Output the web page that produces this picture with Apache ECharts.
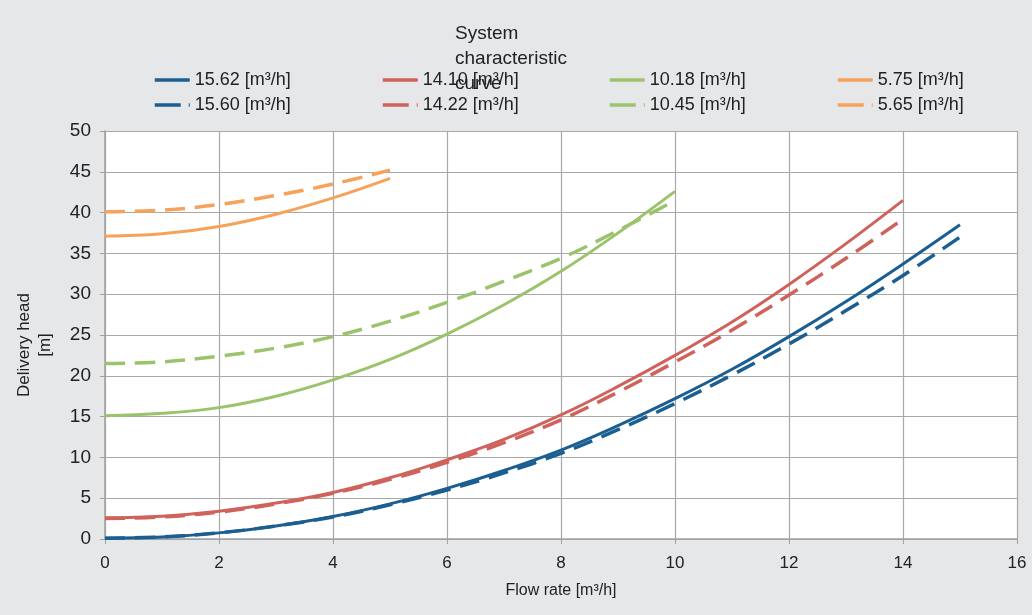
<!DOCTYPE html>
<html>
<head>
<meta charset="utf-8">
<script src="https://cdn.jsdelivr.net/npm/echarts@6/dist/echarts.min.js"></script>
<style>
  html, body { margin: 0; padding: 0; background: #e6e7e8; }
  #chart { width: 1032px; height: 615px; }
</style>
</head>
<body>
<div id="chart"></div>
<script>
// flow rate steps [m3/h] per curve length
var flow15 = [0, 1, 2, 3, 4, 5, 6, 7, 8, 9, 10, 11, 12, 13, 14, 15];
var flow14 = [0, 1, 2, 3, 4, 5, 6, 7, 8, 9, 10, 11, 12, 13, 14];
var flow10 = [0, 1, 2, 3, 4, 5, 6, 7, 8, 9, 10];
var flow5 = [0, 1, 2, 3, 4, 5];

// delivery head [m]
var head1562 = [0.1, 0.25, 0.75, 1.6, 2.75, 4.3, 6.2, 8.4, 10.9, 13.9, 17.2, 20.8, 24.8, 29.1, 33.7, 38.5];
var head1560 = [0.1, 0.25, 0.75, 1.6, 2.7, 4.2, 6.0, 8.1, 10.5, 13.4, 16.6, 20.1, 23.9, 28.0, 32.3, 37.0];
var head1410 = [2.6, 2.8, 3.4, 4.4, 5.7, 7.5, 9.7, 12.2, 15.2, 18.7, 22.5, 26.6, 31.2, 36.2, 41.5];
var head1422 = [2.5, 2.7, 3.3, 4.3, 5.6, 7.3, 9.4, 11.8, 14.6, 18.0, 21.7, 25.6, 29.9, 34.4, 39.2];
var head1018 = [15.1, 15.4, 16.1, 17.5, 19.5, 22.0, 25.1, 28.7, 32.8, 37.5, 42.6];
var head1045 = [21.5, 21.7, 22.4, 23.4, 24.8, 26.7, 29.0, 31.6, 34.4, 37.8, 41.5];
var head575 = [37.1, 37.4, 38.3, 39.8, 41.8, 44.2];
var head565 = [40.1, 40.3, 41.0, 42.1, 43.5, 45.2];

var names = ['15.62 [m³/h]', '15.60 [m³/h]', '14.10 [m³/h]', '14.22 [m³/h]',
             '10.18 [m³/h]', '10.45 [m³/h]', '5.75 [m³/h]', '5.65 [m³/h]'];
var colors = ['#1b5e92', '#1b5e92', '#d0625c', '#d0625c', '#9bc36b', '#9bc36b', '#f7a25b', '#f7a25b'];

function pairs(xs, ys) {
    return xs.map(function (x, i) { return [x, ys[i]]; });
}

var curves = [
    pairs(flow15, head1562), pairs(flow15, head1560),
    pairs(flow14, head1410), pairs(flow14, head1422),
    pairs(flow10, head1018), pairs(flow10, head1045),
    pairs(flow5, head575), pairs(flow5, head565)
];

var font = 'Liberation Sans, Arial, sans-serif';

// legend: 4 columns x 2 rows (solid on top, dashed below)
var colLeft = [153, 381, 608, 836];
var legends = names.map(function (n, i) {
    return {
        data: [n],
        left: colLeft[Math.floor(i / 2)],
        top: i % 2 === 0 ? 71 : 96,
        padding: 0,
        itemWidth: 35,
        itemHeight: 14,
        itemGap: 0,
        itemStyle: { opacity: 0 },
        lineStyle: { width: 3.5, type: i % 2 === 0 ? 'solid' : [26, 8] },
        textStyle: { fontFamily: font, fontSize: 18, color: '#222' }
    };
});

var series = curves.map(function (d, i) {
    return {
        name: names[i],
        type: 'line',
        data: d,
        smooth: 0.4,
        showSymbol: false,
        symbol: 'none',
        color: colors[i],
        lineStyle: {
            color: colors[i],
            width: i % 2 === 0 ? 3 : 3.5,
            type: i % 2 === 0 ? 'solid' : [20, 10]
        }
    };
});

var myChart = echarts.init(document.getElementById('chart'));
var option = {
    backgroundColor: '#e6e7e8',
    animation: false,
    title: {
        text: 'System\ncharacteristic\ncurve',
        left: 455,
        top: 21,
        padding: 0,
        textStyle: { fontFamily: font, fontSize: 19, fontWeight: 'normal', color: '#222', lineHeight: 25 }
    },
    legend: legends,
    grid: {
        left: 105, right: 15, top: 131, bottom: 76,
        show: true, backgroundColor: '#ffffff', borderWidth: 0
    },
    xAxis: {
        type: 'value',
        min: 0, max: 16, interval: 2,
        name: 'Flow rate [m³/h]',
        nameLocation: 'middle',
        nameGap: 44,
        nameTextStyle: { fontFamily: font, fontSize: 16, color: '#222' },
        axisLine: { lineStyle: { color: '#a0a0a0', width: 1.5 } },
        axisTick: { show: true, length: 5, lineStyle: { color: '#a0a0a0' } },
        axisLabel: { fontFamily: font, fontSize: 17, color: '#222', margin: 16 },
        splitLine: { lineStyle: { color: '#a8a8a8', width: 1.2 } }
    },
    yAxis: {
        type: 'value',
        min: 0, max: 50, interval: 5,
        name: 'Delivery head\n[m]',
        nameLocation: 'middle',
        nameGap: 49,
        nameTextStyle: { fontFamily: font, fontSize: 17, color: '#222', lineHeight: 21, padding: [0, 20, 0, 0] },
        axisLine: { show: true, lineStyle: { color: '#a0a0a0', width: 1.5 } },
        axisTick: { show: true, length: 5, lineStyle: { color: '#a0a0a0' } },
        axisLabel: { fontFamily: font, fontSize: 19, color: '#222', margin: 14 },
        splitLine: { lineStyle: { color: '#a8a8a8', width: 1.2 } }
    },
    series: series
};
myChart.setOption(option);
</script>
</body>
</html>
